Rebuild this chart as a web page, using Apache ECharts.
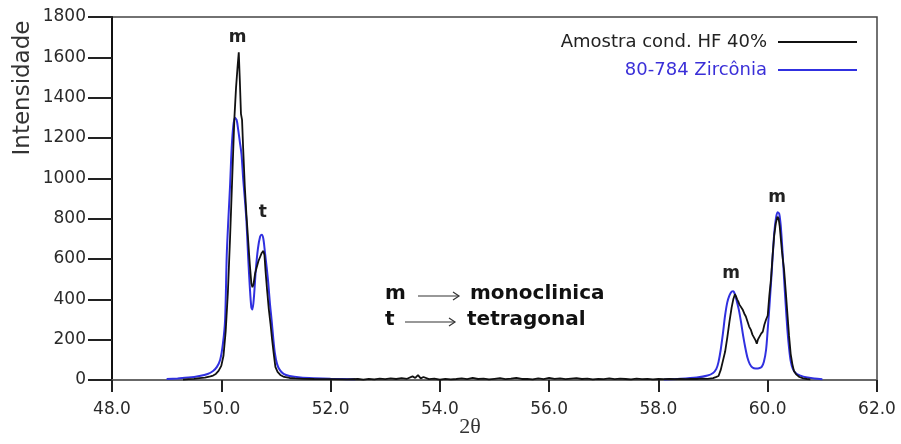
<!DOCTYPE html>
<html>
<head>
<meta charset="utf-8">
<script src="https://cdn.jsdelivr.net/npm/echarts@6/dist/echarts.min.js"></script>
<style>html,body{margin:0;padding:0;background:#fff;}#c{width:901px;height:444px;}</style>
</head>
<body>
<div id="c"></div>
<script>
// ---- data ----
const seriesNames = ['Amostra cond. HF 40%', '80-784 Zircônia'];
const xTicks = [48, 50, 52, 54, 56, 58, 60, 62];
const yTicks = [0, 200, 400, 600, 800, 1000, 1200, 1400, 1600, 1800];

// measured sample (black)
const sampleX = [49.30,49.40,49.50,49.60,49.70,49.80,49.85,49.90,49.95,50.00,50.04,50.08,50.12,50.16,50.20,50.24,50.27,50.30,50.32,50.34,50.36,50.38,50.40,50.43,50.46,50.49,50.52,50.55,50.57,50.59,50.62,50.65,50.68,50.71,50.74,50.77,50.79,50.81,50.84,50.87,50.90,50.93,50.96,50.99,51.03,51.08,51.15,51.25,51.35,51.5,51.7,52.0,52.3,52.5,52.6,52.7,52.8,52.9,53.0,53.1,53.2,53.3,53.4,53.5,53.55,53.6,53.65,53.7,53.8,53.9,54.0,54.1,54.2,54.3,54.4,54.5,54.6,54.7,54.8,54.9,55.0,55.1,55.2,55.3,55.4,55.5,55.6,55.7,55.8,55.9,56.0,56.1,56.2,56.3,56.4,56.5,56.6,56.7,56.8,56.9,57.0,57.1,57.2,57.3,57.4,57.5,57.6,57.7,57.8,57.9,58.0,58.1,58.2,58.3,58.4,58.5,58.6,58.7,58.8,58.9,59.0,59.05,59.10,59.14,59.18,59.22,59.26,59.30,59.34,59.37,59.40,59.42,59.44,59.46,59.48,59.51,59.54,59.57,59.60,59.63,59.66,59.69,59.72,59.75,59.78,59.80,59.82,59.85,59.88,59.91,59.94,59.97,60.00,60.03,60.06,60.09,60.12,60.15,60.18,60.20,60.22,60.24,60.26,60.28,60.30,60.33,60.36,60.39,60.42,60.45,60.48,60.52,60.58,60.65,60.72,60.78];
const sampleY = [2,4,6,9,12,18,22,30,45,70,120,240,430,700,1000,1300,1450,1560,1625,1480,1320,1290,1150,960,820,700,580,480,460,475,530,560,590,610,630,640,620,540,440,350,280,200,130,65,40,25,15,10,8,6,5,4,3,5,2,6,3,7,4,8,5,9,6,18,10,24,8,15,4,7,2,6,3,5,8,4,10,5,7,3,6,9,4,7,11,5,6,3,8,4,10,6,8,4,7,9,5,7,3,6,4,8,4,7,5,3,7,4,6,3,5,4,6,4,6,4,5,5,7,6,9,14,20,50,95,140,210,290,360,400,425,415,400,390,375,380,350,330,315,290,265,250,225,210,195,180,200,215,230,240,275,300,320,420,500,620,720,780,810,800,760,700,640,590,545,440,330,220,130,80,45,28,15,8,5,3];

// reference pattern (blue); null = gap
const refX = [49.00,49.20,49.40,49.60,49.75,49.85,49.92,49.98,50.03,50.07,50.10,50.13,50.16,50.19,50.22,50.25,50.28,50.31,50.34,50.37,50.40,50.43,50.46,50.49,50.52,50.55,50.57,50.60,50.63,50.67,50.71,50.74,50.77,50.80,50.83,50.86,50.89,50.92,50.95,50.98,51.02,51.07,51.14,51.25,51.45,51.7,52.0,52.45,55.0,58.10,58.4,58.7,58.9,59.00,59.06,59.10,59.14,59.18,59.22,59.26,59.30,59.34,59.37,59.40,59.43,59.47,59.51,59.55,59.59,59.63,59.67,59.72,59.78,59.84,59.89,59.93,59.97,60.00,60.03,60.06,60.09,60.12,60.15,60.18,60.21,60.24,60.27,60.30,60.33,60.36,60.39,60.42,60.46,60.52,60.6,60.7,60.85,61.0];
const refY = [5,8,12,20,30,45,65,100,180,300,620,800,960,1150,1260,1300,1290,1240,1180,1120,1000,900,790,620,470,360,350,420,540,650,710,720,700,630,560,480,380,300,210,135,80,50,30,20,13,9,6,4,null,3,6,12,22,35,55,90,150,230,320,385,420,438,440,425,395,350,290,220,160,110,80,62,57,58,65,90,150,250,360,480,610,730,800,832,825,760,640,500,370,250,160,95,55,32,22,14,8,4];

// peak annotations [x, y, label]
const peakX = [50.30, 50.76, 59.33, 60.17];
const peakY = [1700, 830, 527, 905];
const peakLabel = ['m', 't', 'm', 'm'];

const toPairs = (xs, ys) => xs.map((x, i) => [x, ys[i] === null ? '-' : ys[i]]);

const chart = echarts.init(document.getElementById('c'), null, {renderer: 'canvas'});
const font = 'DejaVu Sans';

const option = {
  animation: false,
  backgroundColor: '#fff',
  grid: {left: 112, right: 24, top: 17, bottom: 64, show: true, borderColor: '#444', borderWidth: 1.5},
  xAxis: {
    type: 'value', min: xTicks[0], max: xTicks[xTicks.length - 1], interval: 2,
    axisLine: {show: true, lineStyle: {color: '#666', width: 1.5}},
    axisTick: {show: true, length: 12, lineStyle: {color: '#222', width: 2}},
    axisLabel: {margin: 21, color: '#2a2a2a', fontSize: 17, fontFamily: font, showMinLabel: true, showMaxLabel: true,
      formatter: v => v.toFixed(1)},
    splitLine: {show: false}
  },
  yAxis: {
    type: 'value', min: yTicks[0], max: yTicks[yTicks.length - 1], interval: 200,
    axisLine: {show: true, lineStyle: {color: '#111', width: 2}},
    axisTick: {show: true, length: 24, lineStyle: {color: '#222', width: 2}},
    axisLabel: {margin: 26, color: '#2a2a2a', fontSize: 17, fontFamily: font, formatter: v => String(v)},
    splitLine: {show: false}
  },
  legend: [
    {data: [seriesNames[0]], right: 44, top: 33, align: 'right', orient: 'vertical', icon: 'rect',
     itemWidth: 79, itemHeight: 2, padding: 0,
     textStyle: {color: '#222', fontSize: 18, fontFamily: font, padding: [0, 6, 0, 0]}},
    {data: [seriesNames[1]], right: 44, top: 61, align: 'right', orient: 'vertical', icon: 'rect',
     itemWidth: 79, itemHeight: 2, padding: 0,
     textStyle: {color: '#3a2fd8', fontSize: 18, fontFamily: font, padding: [0, 6, 0, 0]}}
  ],
  series: [
    {
      name: seriesNames[1], type: 'line', data: toPairs(refX, refY), showSymbol: false, symbol: 'none',
      smooth: 0.3, connectNulls: false, lineStyle: {color: '#3030e0', width: 2}, itemStyle: {color: '#3030e0'}, z: 2
    },
    {
      name: seriesNames[0], type: 'line', data: toPairs(sampleX, sampleY), showSymbol: false, symbol: 'none',
      lineStyle: {color: '#111', width: 1.8}, itemStyle: {color: '#111'}, z: 3,
      markPoint: {
        silent: true, symbol: 'circle', symbolSize: 1,
        itemStyle: {color: 'rgba(0,0,0,0)'},
        label: {show: true, position: 'inside', color: '#222', fontSize: 17, fontWeight: 'bold', fontFamily: font,
          formatter: p => p.name},
        data: peakX.map((x, i) => ({name: peakLabel[i], coord: [x, peakY[i]]}))
      }
    }
  ],
  graphic: [
    {type: 'text', x: 23, y: 88, rotation: Math.PI / 2,
     style: {text: 'Intensidade', x: 0, y: 0, align: 'center', verticalAlign: 'middle', fill: '#333',
       font: '23px "DejaVu Sans"'}},
    {type: 'text', x: 470, y: 427,
     style: {text: '2θ', align: 'center', verticalAlign: 'middle', fill: '#333', font: '22px "Liberation Serif"'}},
    {type: 'text', x: 385, y: 294,
     style: {text: 'm', align: 'left', verticalAlign: 'middle', fill: '#111', font: 'bold 20px "DejaVu Sans"'}},
    {type: 'text', x: 470, y: 294,
     style: {text: 'monoclinica', align: 'left', verticalAlign: 'middle', fill: '#111', font: 'bold 20px "DejaVu Sans"'}},
    {type: 'text', x: 385, y: 320,
     style: {text: 't', align: 'left', verticalAlign: 'middle', fill: '#111', font: 'bold 20px "DejaVu Sans"'}},
    {type: 'text', x: 467, y: 320,
     style: {text: 'tetragonal', align: 'left', verticalAlign: 'middle', fill: '#111', font: 'bold 20px "DejaVu Sans"'}},
    {type: 'line', shape: {x1: 418, y1: 296, x2: 459, y2: 296}, style: {stroke: '#333', lineWidth: 1.2}},
    {type: 'polyline', shape: {points: [[453, 292], [459, 296], [453, 300]]}, style: {stroke: '#333', lineWidth: 1.2, fill: null}},
    {type: 'line', shape: {x1: 405, y1: 322, x2: 455, y2: 322}, style: {stroke: '#333', lineWidth: 1.2}},
    {type: 'polyline', shape: {points: [[449, 318], [455, 322], [449, 326]]}, style: {stroke: '#333', lineWidth: 1.2, fill: null}}
  ]
};
chart.setOption(option);
</script>
</body>
</html>
